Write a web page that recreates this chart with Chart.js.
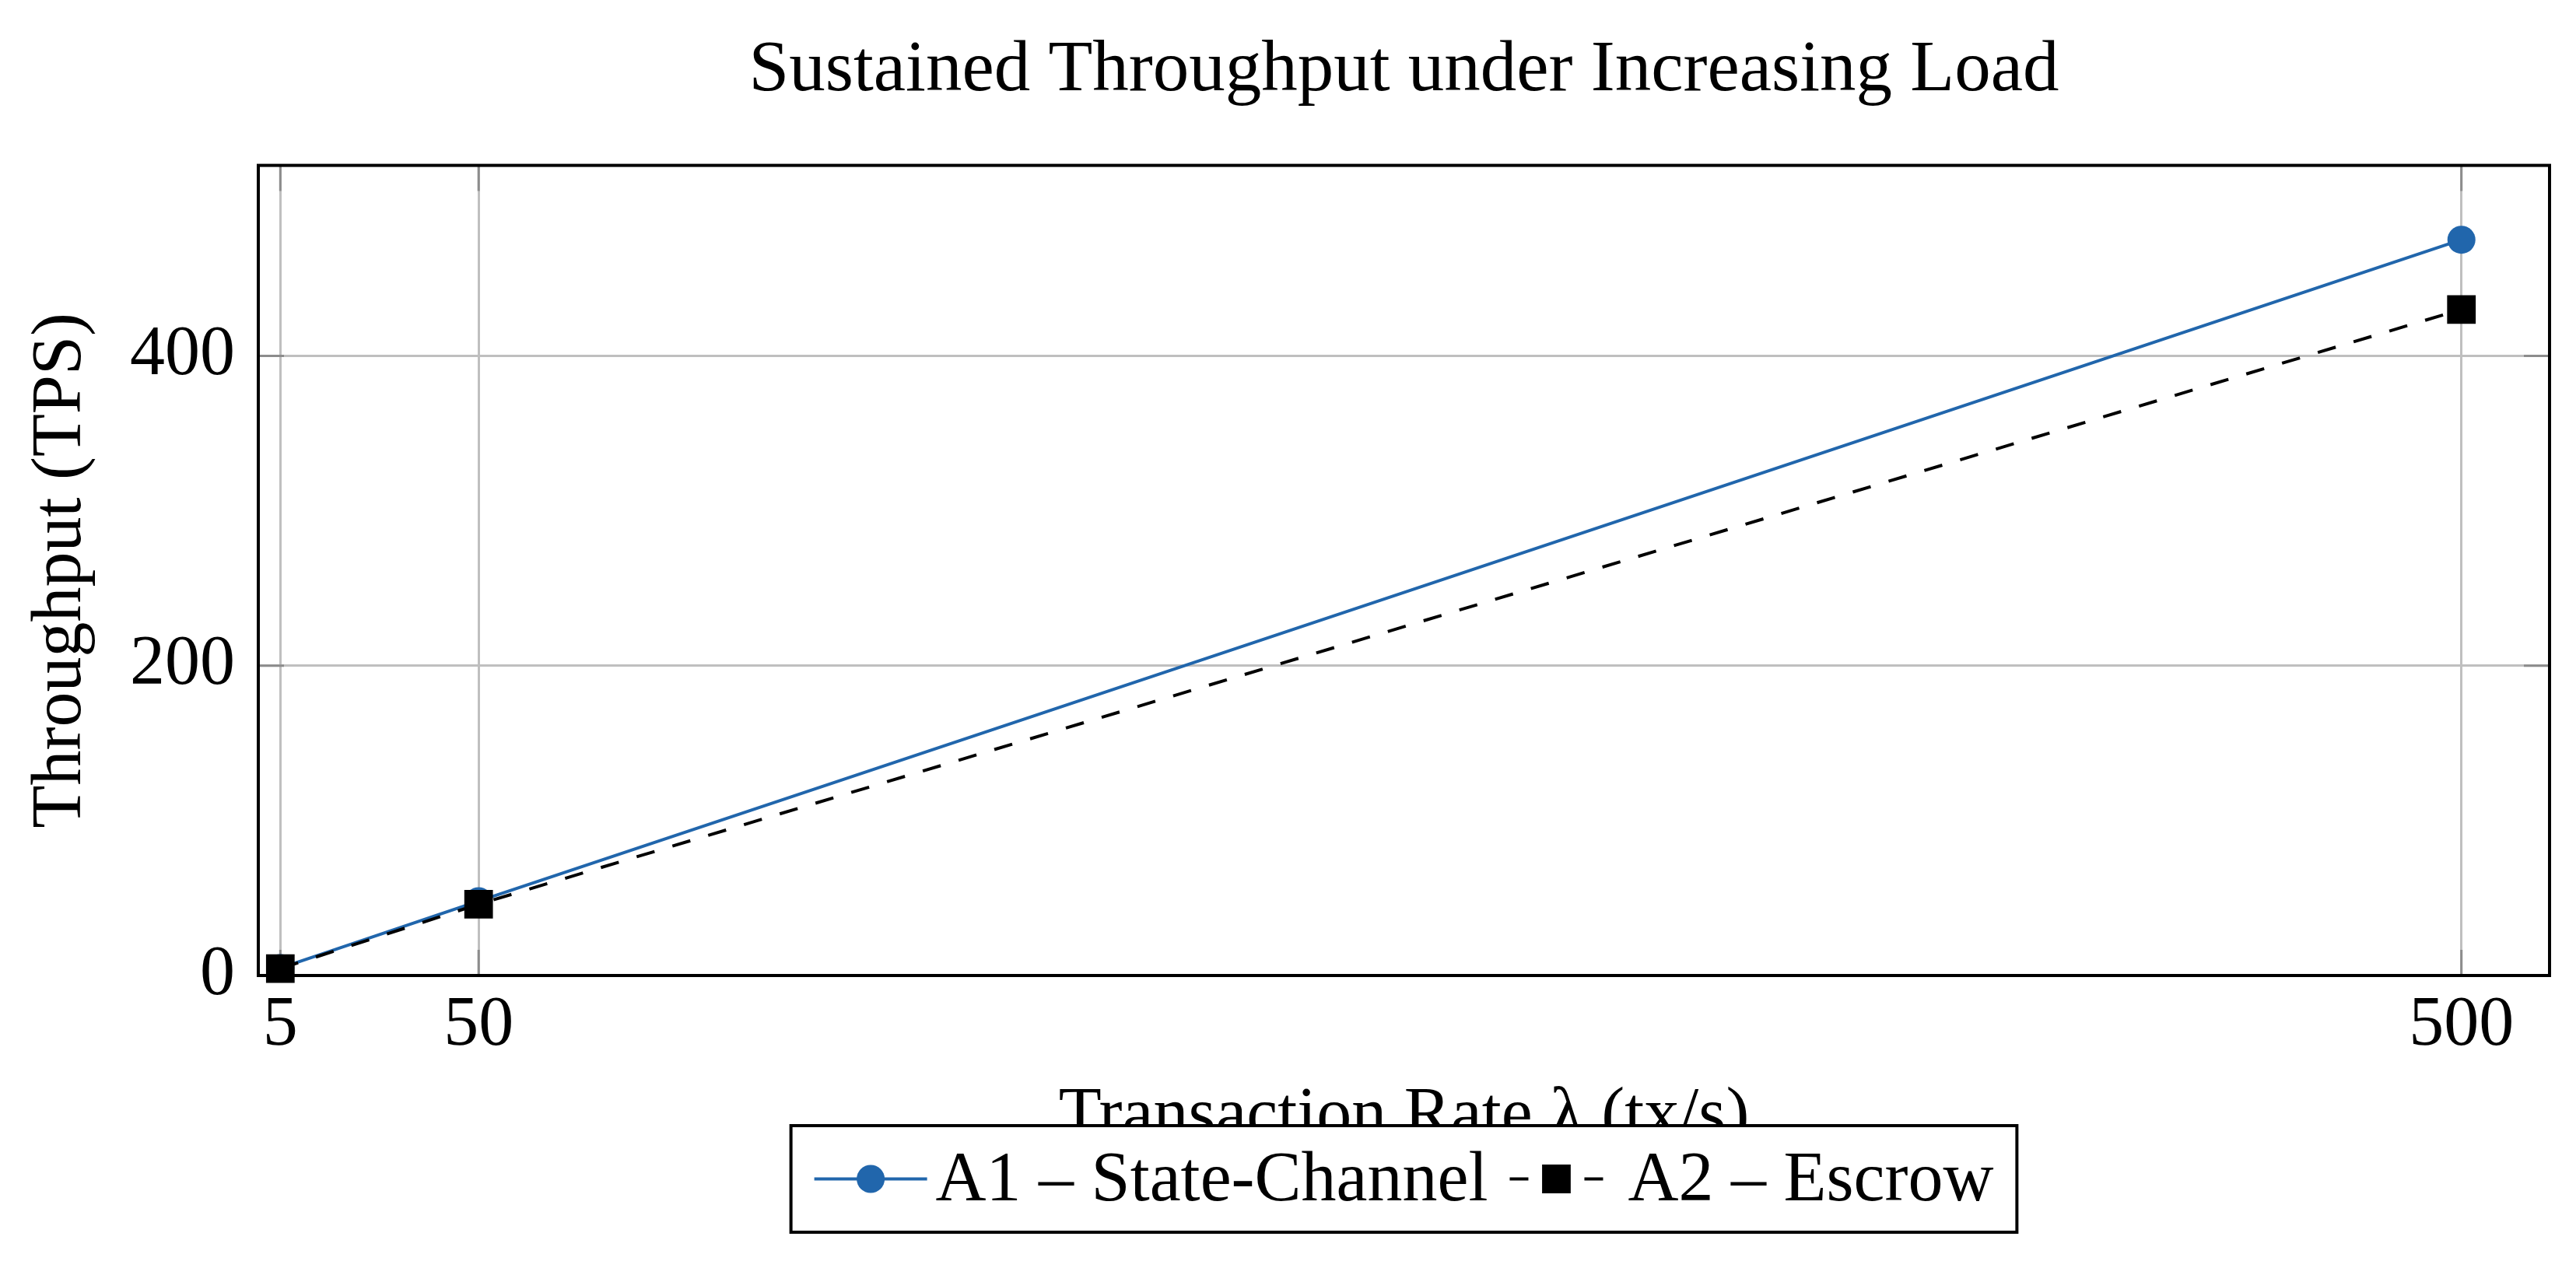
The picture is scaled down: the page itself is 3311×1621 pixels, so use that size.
<!DOCTYPE html>
<html>
<head>
<meta charset="utf-8">
<title>Sustained Throughput under Increasing Load</title>
<script src="https://cdn.jsdelivr.net/npm/chart.js@4.4.1/dist/chart.umd.min.js"></script>
<style>
  html, body { margin: 0; padding: 0; background: #fff; }
  #wrap { width: 3311px; height: 1621px; }
</style>
</head>
<body>
<div id="wrap"><canvas id="throughputChart"></canvas></div>
<script>
// values
const rates = [5, 50, 500];
const stateChannelTps = [4.8, 48, 475];
const escrowTps = [4.5, 46, 430];
const seriesNames = ['A1 – State-Channel', 'A2 – Escrow'];
const xTicks = [5, 50, 500];
const yTicks = [0, 200, 400];

const FONT = "'Liberation Serif', 'Times New Roman', serif";
const BLUE = '#2166ac';

function toPoints(xs, ys) {
    return xs.map((x, i) => ({ x: x, y: ys[i] }));
}

// closes the box round the plot and adds the small inner tick marks
const frame = {
    id: 'frame',
    beforeDatasetsDraw(chart) {
        const { ctx, chartArea: a, scales } = chart;
        const tl = 33;
        ctx.save();
        ctx.strokeStyle = '#8c8c8c';
        ctx.lineWidth = 3;
        ctx.beginPath();
        xTicks.forEach(v => {
            const px = scales.x.getPixelForValue(v);
            ctx.moveTo(px, a.bottom); ctx.lineTo(px, a.bottom - tl);
            ctx.moveTo(px, a.top); ctx.lineTo(px, a.top + tl);
        });
        yTicks.forEach(v => {
            const py = scales.y.getPixelForValue(v);
            ctx.moveTo(a.left, py); ctx.lineTo(a.left + tl, py);
            ctx.moveTo(a.right, py); ctx.lineTo(a.right - tl, py);
        });
        ctx.stroke();
        ctx.strokeStyle = '#000';
        ctx.lineWidth = 4;
        ctx.strokeRect(a.left, a.top, a.right - a.left, a.bottom - a.top);
        ctx.restore();
    }
};

// pgfplots-like legend: boxed, one row, drawn over the x title
const boxLegend = {
    id: 'boxLegend',
    afterDraw(chart) {
        const { ctx, chartArea: a } = chart;
        const sets = chart.data.datasets;
        const sampleW = [145, 120];
        const gapText = [11, 32];
        const gapItem = 28;
        const pad = 30;
        ctx.save();
        ctx.font = '90px ' + FONT;
        const textW = sets.map(d => ctx.measureText(d.label).width);
        let total = pad * 2 + gapItem * (sets.length - 1);
        sets.forEach((d, i) => { total += sampleW[i] + gapText[i] + textW[i]; });
        const top = 1447, h = 137;
        const left = (a.left + a.right) / 2 - total / 2;
        const cy = top + h / 2;

        ctx.fillStyle = '#fff';
        ctx.fillRect(left, top, total, h);
        ctx.strokeStyle = '#000';
        ctx.lineWidth = 4;
        ctx.strokeRect(left, top, total, h);

        let x = left + pad;
        sets.forEach((d, i) => {
            ctx.strokeStyle = d.borderColor;
            ctx.lineWidth = d.borderWidth;
            ctx.setLineDash(d.borderDash || []);
            ctx.beginPath();
            ctx.moveTo(x, cy);
            ctx.lineTo(x + sampleW[i], cy);
            ctx.stroke();
            ctx.setLineDash([]);

            const mx = x + sampleW[i] / 2;
            const r = d.pointRadius;
            ctx.fillStyle = d.pointBackgroundColor;
            ctx.beginPath();
            if (d.pointStyle === 'rect') {
                const s = Math.SQRT1_2 * r;
                ctx.rect(mx - s, cy - s, 2 * s, 2 * s);
            } else {
                ctx.arc(mx, cy, r, 0, Math.PI * 2);
            }
            ctx.fill();

            x += sampleW[i] + gapText[i];
            ctx.fillStyle = '#000';
            ctx.textBaseline = 'middle';
            ctx.textAlign = 'left';
            ctx.fillText(d.label, x, cy + 4);
            x += textW[i] + gapItem;
        });
        ctx.restore();
    }
};

const tickFont = { family: FONT, size: 90, weight: 'normal' };

const ctx = document.getElementById('throughputChart').getContext('2d');
new Chart(ctx, {
    type: 'line',
    data: {
        datasets: [
            {
                label: seriesNames[0],
                data: toPoints(rates, stateChannelTps),
                borderColor: BLUE,
                backgroundColor: BLUE,
                pointBackgroundColor: BLUE,
                pointBorderWidth: 0,
                pointStyle: 'circle',
                pointRadius: 18,
                borderWidth: 4,
                tension: 0,
                clip: false,
                order: 1
            },
            {
                label: seriesNames[1],
                data: toPoints(rates, escrowTps),
                borderColor: '#000',
                backgroundColor: '#000',
                pointBackgroundColor: '#000',
                pointBorderWidth: 0,
                pointStyle: 'rect',
                pointRadius: 26,
                borderWidth: 4,
                borderDash: [24, 24],
                tension: 0,
                clip: false,
                order: 0
            }
        ]
    },
    options: {
        responsive: true,
        maintainAspectRatio: false,
        animation: false,
        devicePixelRatio: 1,
        layout: { padding: { left: 0, right: 34, top: 0, bottom: 0 } },
        plugins: {
            legend: { display: false },
            tooltip: { enabled: false },
            title: {
                display: true,
                fullSize: false,
                text: 'Sustained Throughput under Increasing Load',
                color: '#000',
                font: { family: FONT, size: 93, weight: 'normal' },
                padding: { top: 36, bottom: 65 }
            }
        },
        scales: {
            x: {
                type: 'linear',
                min: 0,
                max: 520,
                afterBuildTicks: s => { s.ticks = xTicks.map(v => ({ value: v })); },
                afterFit: s => { s.height = 367; },
                grid: { color: '#bfbfbf', lineWidth: 3, drawTicks: false },
                border: { display: true, color: '#000', width: 4 },
                ticks: { color: '#000', font: tickFont, padding: 11, maxRotation: 0, autoSkip: false },
                title: {
                    display: true,
                    text: 'Transaction Rate λ (tx/s)',
                    color: '#000',
                    font: tickFont,
                    padding: { top: 0, bottom: 131 }
                }
            },
            y: {
                min: 0,
                max: 523,
                afterBuildTicks: s => { s.ticks = yTicks.map(v => ({ value: v })); },
                afterFit: s => { s.width = 332; },
                grid: { color: '#bfbfbf', lineWidth: 3, drawTicks: false },
                border: { display: true, color: '#000', width: 4 },
                ticks: { color: '#000', font: tickFont, padding: 30 },
                title: {
                    display: true,
                    text: 'Throughput (TPS)',
                    color: '#000',
                    font: tickFont,
                    padding: { top: 25, bottom: 0 }
                }
            }
        }
    },
    plugins: [frame, boxLegend]
});
</script>
</body>
</html>
